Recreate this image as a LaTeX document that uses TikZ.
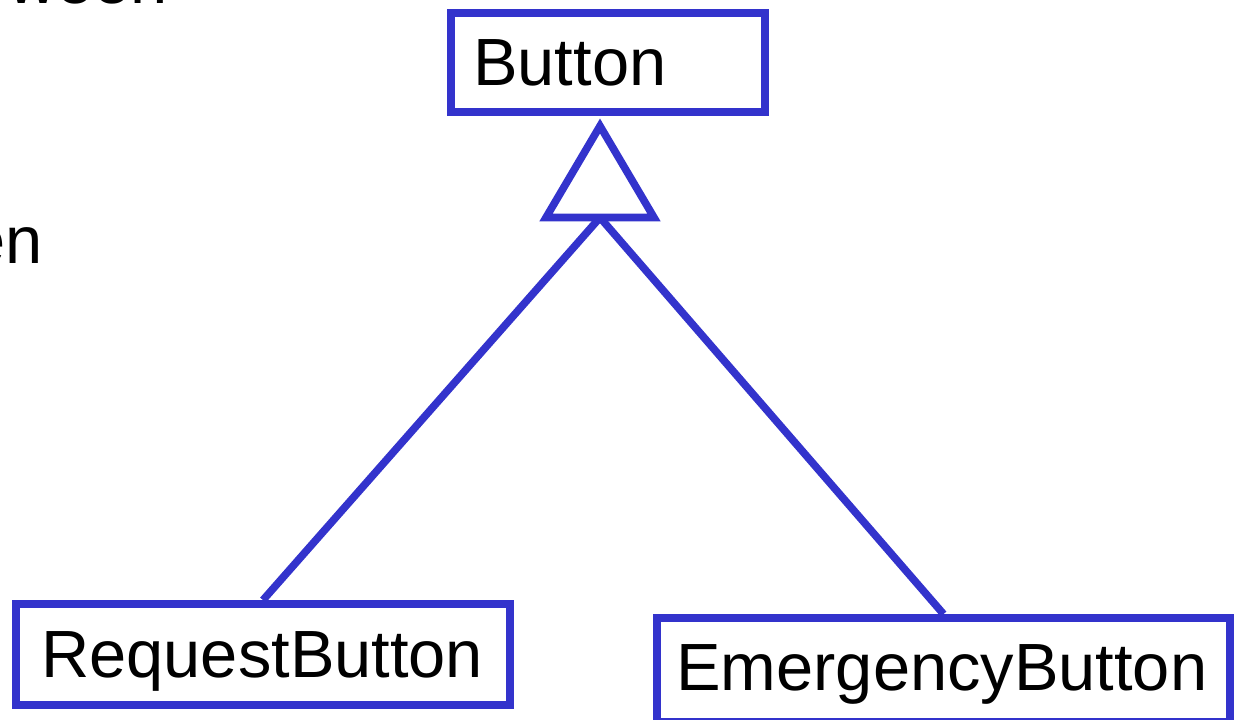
\documentclass[tikz,border=0pt]{standalone}
\usepackage{fontspec}
\setmainfont{Liberation Sans}
\usepackage{tikz}
\usetikzlibrary{positioning, fit, calc}
\usepackage{xcolor}
\definecolor{umlblue}{HTML}{3333CC}
\tikzset{
  umlclass/.style={rectangle, draw=umlblue, line width=5.6pt,
                   inner sep=0pt, fill=white},
  classname/.style={inner sep=0pt, font=\fontsize{47.5pt}{57pt}\selectfont},
  umlline/.style={draw=umlblue, line width=5.4pt, line join=miter},
}

\begin{document}
\begin{tikzpicture}[x=0.025cm, y=-0.025cm]
  \useasboundingbox (0,0) rectangle (1240,719);
  \clip (0,0) rectangle (1240,719);

  % slide text running past the edge
  \node [classname, anchor=base east] (txtA) at (168,3) {ween};
  \node [classname, anchor=base east] (txtB) at (43,263) {en};

  % classes
  \node [umlclass, fit={(451,13) (765,112)}] (button) {};
  \node [classname, anchor=base west] (buttonname) at (473,85) {Button};

  \node [umlclass, fit={(16,604) (510,705)}] (request) {};
  \node [classname, anchor=base west] (requestname) at (41,677) {RequestButton};

  \node [umlclass, fit={(657,618) (1230,722)}] (emergency) {};
  \node [classname, anchor=base west] (emergencyname) at (676,690) {EmergencyButton};

  % generalization
  \coordinate (tip) at (600,126);
  \coordinate (base) at (600,217.5);
  \draw [umlline] (tip) -- ($(base)+(-54,0)$) -- ($(base)+(54,0)$) -- cycle;
  \draw [umlline] (base) -- (request.north);
  \draw [umlline] (base) -- (emergency.north);
\end{tikzpicture}
\end{document}
